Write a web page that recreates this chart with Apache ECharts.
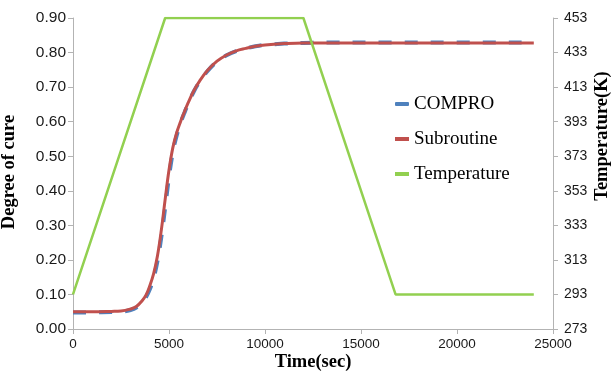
<!DOCTYPE html>
<html>
<head>
<meta charset="utf-8">
<script src="https://cdn.jsdelivr.net/npm/echarts@6/dist/echarts.min.js"></script>
<style>
html,body{margin:0;padding:0;background:#fff;}
#c{width:611px;height:381px;}
</style>
</head>
<body>
<div id="c"></div>
<script>
// Time axis (sec) for cure curves
var cureTime = [0, 1000, 2000, 2500, 3000, 3300, 3600, 3800, 4000, 4200, 4400, 4600, 4800, 5000, 5200, 5400, 5600, 5800, 6000, 6300, 6600, 7000, 7500, 8000, 8500, 9000, 9500, 10000, 11000, 12000, 13000, 24000];
// Degree of cure - COMPRO
var comproCure = [0.048, 0.048, 0.049, 0.050, 0.055, 0.062, 0.077, 0.092, 0.115, 0.148, 0.197, 0.266, 0.352, 0.440, 0.512, 0.560, 0.596, 0.625, 0.652, 0.688, 0.716, 0.746, 0.774, 0.792, 0.804, 0.812, 0.818, 0.822, 0.826, 0.828, 0.829, 0.829];
// Degree of cure - Subroutine
var subCure = [0.050, 0.050, 0.051, 0.052, 0.058, 0.065, 0.082, 0.098, 0.125, 0.160, 0.212, 0.286, 0.375, 0.460, 0.525, 0.568, 0.600, 0.628, 0.655, 0.690, 0.718, 0.748, 0.775, 0.793, 0.805, 0.812, 0.818, 0.822, 0.826, 0.828, 0.828, 0.828];
// Temperature profile (K)
var tempTime = [0, 4800, 12000, 16800, 24000];
var tempK = [293, 453, 453, 293, 293];
// Axis ticks
var xTicks = [0, 5000, 10000, 15000, 20000, 25000];
var cureTicks = [0, 0.1, 0.2, 0.3, 0.4, 0.5, 0.6, 0.7, 0.8, 0.9];
var tempTicks = [273, 293, 313, 333, 353, 373, 393, 413, 433, 453];
var tempBase = tempTicks[0];

function pairs(xs, ys, off) {
  return xs.map(function (x, i) { return [x, ys[i] - (off || 0)]; });
}

var axisGray = '#B3B3B3';
var chart = echarts.init(document.getElementById('c'), null, { renderer: 'canvas' });
chart.setOption({
  animation: false,
  backgroundColor: '#fff',
  grid: { left: 73, right: 58, top: 18, bottom: 52 },
  xAxis: {
    type: 'value', min: xTicks[0], max: xTicks[xTicks.length - 1], interval: 5000,
    axisLine: { lineStyle: { color: axisGray, width: 1 } },
    axisTick: { show: true, length: 5, lineStyle: { color: axisGray } },
    splitLine: { show: false },
    axisLabel: { margin: 8, fontFamily: 'Liberation Sans', fontSize: 13.5, color: '#1a1a1a',
      formatter: function (v) { return String(v); } }
  },
  yAxis: [{
    type: 'value', min: cureTicks[0], max: cureTicks[cureTicks.length - 1], interval: 0.1,
    axisLine: { show: true, lineStyle: { color: axisGray, width: 1 } },
    axisTick: { show: true, length: 5, lineStyle: { color: axisGray } },
    splitLine: { show: false },
    axisLabel: { margin: 7, fontFamily: 'Liberation Sans', fontSize: 15.5, color: '#1a1a1a',
      formatter: function (v) { return v.toFixed(2); } }
  }, {
    type: 'value', position: 'right', min: 0, max: tempTicks[tempTicks.length - 1] - tempBase, interval: 20,
    axisLine: { show: true, lineStyle: { color: axisGray, width: 1 } },
    axisTick: { show: true, length: 5, lineStyle: { color: axisGray } },
    splitLine: { show: false },
    axisLabel: { margin: 11, fontFamily: 'Liberation Sans', fontSize: 14, color: '#1a1a1a',
      formatter: function (v) { return String(Math.round(v + tempBase)); } }
  }],
  legend: {
    orient: 'vertical', left: 390, top: 89, itemGap: 15, itemWidth: 14, itemHeight: 4,
    textStyle: { fontFamily: 'Liberation Serif', fontSize: 19, color: '#000', lineHeight: 20 },
    data: [
      { name: 'COMPRO', icon: 'roundRect' },
      { name: 'Subroutine', icon: 'rect' },
      { name: 'Temperature', icon: 'rect' }
    ]
  },
  series: [{
    name: 'COMPRO', type: 'line', yAxisIndex: 0, showSymbol: false, symbol: 'none',
    smooth: 0.4,
    data: pairs(cureTime, comproCure),
    lineStyle: { color: '#4F81BD', width: 4, type: [13, 13] },
    itemStyle: { color: '#4F81BD' }, z: 2
  }, {
    name: 'Subroutine', type: 'line', yAxisIndex: 0, showSymbol: false, symbol: 'none',
    smooth: 0.4,
    data: pairs(cureTime, subCure),
    lineStyle: { color: '#C0504D', width: 3 },
    itemStyle: { color: '#C0504D' }, z: 3
  }, {
    name: 'Temperature', type: 'line', yAxisIndex: 1, showSymbol: false, symbol: 'none',
    data: pairs(tempTime, tempK, tempBase),
    lineStyle: { color: '#92D050', width: 2.5 },
    itemStyle: { color: '#92D050' }, z: 4
  }],
  graphic: [{
    type: 'text', x: 313, y: 362,
    style: { text: 'Time(sec)', font: 'bold 18.5px "Liberation Serif"', fill: '#000', align: 'center', verticalAlign: 'middle' }
  }, {
    type: 'text', x: 9, y: 172, rotation: Math.PI / 2,
    style: { text: 'Degree of cure', font: 'bold 18.5px "Liberation Serif"', fill: '#000', align: 'center', verticalAlign: 'middle' }
  }, {
    type: 'text', x: 602, y: 136, rotation: Math.PI / 2,
    style: { text: 'Temperature(K)', font: 'bold 18.5px "Liberation Serif"', fill: '#000', align: 'center', verticalAlign: 'middle' }
  }]
});
</script>
</body>
</html>
